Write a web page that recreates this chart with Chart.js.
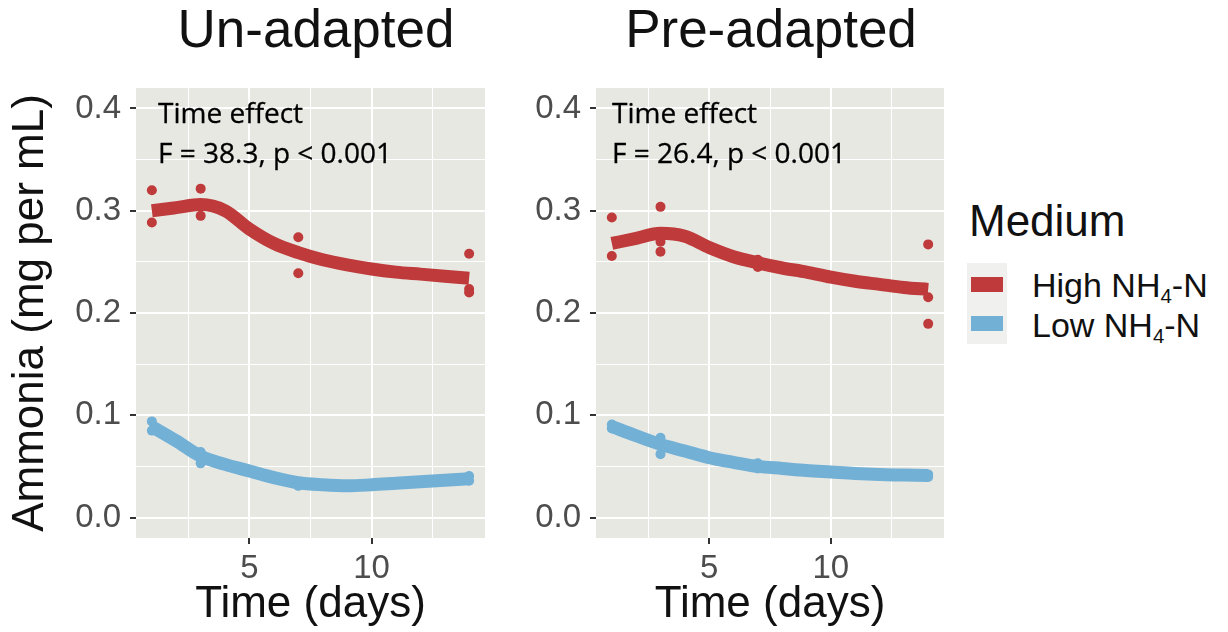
<!DOCTYPE html>
<html>
<head>
<meta charset="utf-8">
<script src="https://cdn.jsdelivr.net/npm/chart.js@4.4.1/dist/chart.umd.min.js"></script>
<style>
  html, body { margin: 0; padding: 0; background: #ffffff; }
  body { width: 1228px; height: 632px; position: relative; overflow: hidden; font-family: "Liberation Sans", Arial, sans-serif; }
  .box { position: absolute; top: 0; height: 632px; }
  .title { position: absolute; top: -1px; font-size: 53px; line-height: 60px; color: #111; white-space: nowrap; transform: translateX(-50%); }
  .annot { position: absolute; top: 92px; font-family: "Open Sans", sans-serif; font-size: 28px; line-height: 40px; color: #000; white-space: nowrap; -webkit-text-stroke: 0.3px #000; }
  .legtitle { position: absolute; left: 969px; top: 195px; font-size: 44px; line-height: 52px; color: #111; }
  .legbg { position: absolute; left: 967px; top: 263px; width: 40px; height: 81px; background: #F0F0EE; }
  .key { position: absolute; left: 971px; width: 32px; height: 15px; }
  .leglab { position: absolute; left: 1032px; font-size: 34px; line-height: 40px; color: #111; white-space: nowrap; }
  .leglab sub { font-size: 0.6em; vertical-align: -0.3em; line-height: 0; }
</style>
</head>
<body>
<div class="box" style="left:0;width:490px;"><canvas id="c1"></canvas></div>
<div class="box" style="left:490px;width:460px;"><canvas id="c2"></canvas></div>

<div class="title" style="left:316px;">Un-adapted</div>
<div class="title" style="left:771px;">Pre-adapted</div>
<div class="annot" style="left:158px;">Time effect<br>F = 38.3, p &lt; 0.001</div>
<div class="annot" style="left:612px;">Time effect<br>F = 26.4, p &lt; 0.001</div>

<div class="legtitle">Medium</div>
<div class="legbg"></div>
<div class="key" style="top:277px;background:#BF3A3A;"></div>
<div class="key" style="top:316px;background:#72B0D6;"></div>
<div class="leglab" style="top:265px;">High NH<sub>4</sub>-N</div>
<div class="leglab" style="top:305px;">Low NH<sub>4</sub>-N</div>

<script>
// ---- data ----
const days = [1, 2, 3, 4, 5, 6, 7, 8, 9, 10, 11, 12, 13, 14];
const unadaptedHighCurve = [0.300, 0.303, 0.306, 0.300, 0.282, 0.268, 0.259, 0.252, 0.247, 0.243, 0.240, 0.238, 0.236, 0.234];
const unadaptedLowCurve  = [0.089, 0.075, 0.060, 0.052, 0.0455, 0.039, 0.034, 0.032, 0.031, 0.032, 0.0335, 0.035, 0.0365, 0.038];
const preadaptedHighCurve = [0.268, 0.273, 0.278, 0.275, 0.264, 0.255, 0.249, 0.244, 0.240, 0.235, 0.231, 0.228, 0.225, 0.223];
const preadaptedLowCurve  = [0.089, 0.080, 0.0715, 0.065, 0.0585, 0.054, 0.050, 0.048, 0.046, 0.0445, 0.043, 0.042, 0.0415, 0.041];

const unadaptedHighDays = [1, 1, 3, 3, 7, 7, 14, 14, 14];
const unadaptedHighVals = [0.320, 0.2885, 0.3216, 0.295, 0.274, 0.2388, 0.258, 0.2235, 0.220];
const unadaptedLowDays  = [1, 1, 3, 3, 7, 14, 14];
const unadaptedLowVals  = [0.094, 0.085, 0.064, 0.053, 0.031, 0.0407, 0.036];
const preadaptedHighDays = [1, 1, 3, 3, 3, 7, 7, 14, 14, 14];
const preadaptedHighVals = [0.2934, 0.2557, 0.3038, 0.2697, 0.260, 0.252, 0.245, 0.2671, 0.2154, 0.1894];
const preadaptedLowDays  = [1, 1, 3, 3, 7, 7, 14, 14];
const preadaptedLowVals  = [0.091, 0.087, 0.078, 0.062, 0.053, 0.048, 0.0422, 0.0396];

const xTicks = [2.5, 5, 7.5, 10, 12.5];
const yTicks = [0, 0.05, 0.1, 0.15, 0.2, 0.25, 0.3, 0.35, 0.4];

// ---- styles ----
const RED = '#BF3A3A';
const BLUE = '#72B0D6';
const PANEL = '#E8E8E3';
const FONT = '"Liberation Sans", Arial, sans-serif';

const pairs = (xs, ys) => xs.map((x, i) => ({ x: x, y: ys[i] }));
const isMajorY = v => Math.abs(v * 10 - Math.round(v * 10)) < 1e-6;
const isMajorX = v => Math.abs(v / 5 - Math.round(v / 5)) < 1e-6;

const panelBg = {
  id: 'panelBg',
  beforeDraw(chart) {
    const a = chart.chartArea, ctx = chart.ctx;
    ctx.save();
    ctx.fillStyle = PANEL;
    ctx.fillRect(a.left, a.top, a.right - a.left, a.bottom - a.top);
    ctx.restore();
  }
};

function makeChart(id, highCurve, lowCurve, hd, hv, ld, lv, showYTitle, yWidth, padRight) {
  return new Chart(document.getElementById(id), {
    type: 'scatter',
    data: {
      datasets: [
        { data: pairs(hd, hv), backgroundColor: RED, borderColor: RED, pointRadius: 5, pointBorderWidth: 0, showLine: false },
        { data: pairs(ld, lv), backgroundColor: BLUE, borderColor: BLUE, pointRadius: 5, pointBorderWidth: 0, showLine: false },
        { data: pairs(days, highCurve), borderColor: RED, borderWidth: 13, pointRadius: 0, showLine: true, tension: 0.4, cubicInterpolationMode: 'monotone', borderCapStyle: 'butt', borderJoinStyle: 'round' },
        { data: pairs(days, lowCurve), borderColor: BLUE, borderWidth: 13, pointRadius: 0, showLine: true, tension: 0.4, cubicInterpolationMode: 'monotone', borderCapStyle: 'butt', borderJoinStyle: 'round' }
      ]
    },
    options: {
      responsive: true,
      maintainAspectRatio: false,
      animation: false,
      devicePixelRatio: 1,
      layout: { padding: { top: 88, right: padRight, bottom: 0, left: 0 } },
      plugins: { legend: { display: false }, tooltip: { enabled: false } },
      scales: {
        x: {
          type: 'linear', min: 0.35, max: 14.65,
          afterBuildTicks: s => { s.ticks = xTicks.map(v => ({ value: v })); },
          afterFit: s => { s.height = 94; },
          border: { display: false },
          grid: {
            color: '#FFFFFF',
            lineWidth: c => (c.tick && isMajorX(c.tick.value)) ? 2 : 1,
            tickColor: c => (c.tick && isMajorX(c.tick.value)) ? '#333333' : 'rgba(0,0,0,0)',
            tickLength: 6,
            tickWidth: 2
          },
          ticks: {
            autoSkip: false, maxRotation: 0, padding: 5,
            color: '#4D4D4D', font: { family: FONT, size: 33 },
            callback: v => isMajorX(v) ? String(Math.round(v)) : ''
          },
          title: { display: true, text: 'Time (days)', color: '#111', font: { family: FONT, size: 44 }, padding: { top: 0, bottom: 1 } }
        },
        y: {
          type: 'linear', min: -0.02, max: 0.42,
          afterBuildTicks: s => { s.ticks = yTicks.map(v => ({ value: v })); },
          afterFit: s => { s.width = yWidth; },
          border: { display: false },
          grid: {
            color: '#FFFFFF',
            lineWidth: c => (c.tick && isMajorY(c.tick.value)) ? 2 : 1,
            tickColor: c => (c.tick && isMajorY(c.tick.value)) ? '#333333' : 'rgba(0,0,0,0)',
            tickLength: 6,
            tickWidth: 2
          },
          ticks: {
            autoSkip: false, padding: 9,
            color: '#4D4D4D', font: { family: FONT, size: 33 },
            callback: v => isMajorY(v) ? v.toFixed(1) : ''
          },
          title: { display: showYTitle, text: 'Ammonia (mg per mL)', color: '#111', font: { family: FONT, size: 44 }, padding: { top: 4, bottom: 0 } }
        }
      }
    },
    plugins: [panelBg]
  });
}

makeChart('c1', unadaptedHighCurve, unadaptedLowCurve, unadaptedHighDays, unadaptedHighVals, unadaptedLowDays, unadaptedLowVals, true, 136, 5);
makeChart('c2', preadaptedHighCurve, preadaptedLowCurve, preadaptedHighDays, preadaptedHighVals, preadaptedLowDays, preadaptedLowVals, false, 106, 6);
</script>
</body>
</html>
